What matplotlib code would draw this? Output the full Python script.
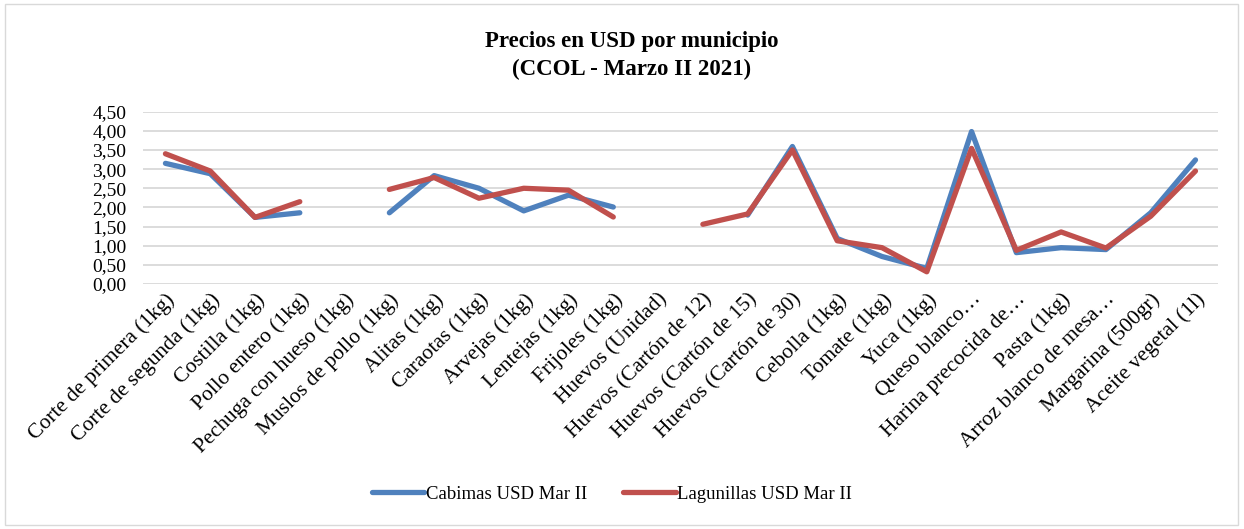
import matplotlib
matplotlib.use("Agg")
import matplotlib.pyplot as plt
import numpy as np
from matplotlib.ticker import FuncFormatter, MultipleLocator
from matplotlib.patches import Rectangle

categories = [
    "Corte de primera (1kg)", "Corte de segunda (1kg)", "Costilla (1kg)",
    "Pollo entero (1kg)", "Pechuga con hueso (1kg)", "Muslos de pollo (1kg)",
    "Alitas (1kg)", "Caraotas (1kg)", "Arvejas (1kg)", "Lentejas (1kg)",
    "Frijoles (1kg)", "Huevos (Unidad)", "Huevos (Cartón de 12)",
    "Huevos (Cartón de 15)", "Huevos (Cartón de 30)", "Cebolla (1kg)",
    "Tomate (1kg)", "Yuca (1kg)", "Queso blanco…", "Harina precocida de…",
    "Pasta (1kg)", "Arroz blanco de mesa…", "Margarina (500gr)", "Aceite vegetal (1l)",
]
nan = np.nan
cabimas = [3.15, 2.88, 1.74, 1.86, nan, 1.86, 2.83, 2.50, 1.91, 2.32, 2.01, nan,
           nan, 1.80, 3.59, 1.19, 0.72, 0.41, 3.98, 0.82, 0.95, 0.90, 1.86, 3.24]
lagunillas = [3.40, 2.95, 1.74, 2.15, nan, 2.47, 2.78, 2.24, 2.50, 2.45, 1.75, nan,
              1.56, 1.83, 3.50, 1.13, 0.95, 0.32, 3.54, 0.88, 1.36, 0.94, 1.77, 2.95]
series_names = ["Cabimas USD Mar II", "Lagunillas USD Mar II"]

plt.rcParams['font.family'] = ['Liberation Serif', 'DejaVu Serif']

fig = plt.figure(figsize=(12.44, 5.29), dpi=100)
fig.patches.append(Rectangle((0.004, 0.008), 0.991, 0.984, transform=fig.transFigure,
                             fill=False, edgecolor='#D9D9D9', linewidth=1))
ax = fig.add_axes([0.115, 0.463, 0.864, 0.326])

x = np.arange(len(categories))
ax.plot(x, cabimas, color='#4F81BD', lw=3.8, solid_capstyle='round',
        solid_joinstyle='round', label=series_names[0], zorder=3)
ax.plot(x, lagunillas, color='#C0504D', lw=3.8, solid_capstyle='round',
        solid_joinstyle='round', label=series_names[1], zorder=4)

ax.set_xlim(-0.5, len(categories) - 0.5)
ax.set_ylim(0, 4.5)
ax.yaxis.set_major_locator(MultipleLocator(0.5))
ax.yaxis.set_major_formatter(FuncFormatter(lambda v, p: f"{v:.2f}".replace('.', ',')))
ax.grid(axis='y', color='#D9D9D9', lw=1.3)
ax.set_axisbelow(True)
for s in ax.spines.values():
    s.set_visible(False)
ax.tick_params(axis='both', length=0, colors='#000000')
ax.tick_params(axis='y', pad=12, labelsize=14)
ax.tick_params(axis='x', pad=4)
ax.set_xticks(x)
ax.set_xticklabels(categories, rotation=45, ha='right', va='top',
                   rotation_mode='anchor', fontsize=15.5)

fig.text(0.508, 0.922, "Precios en USD por municipio", ha='center', va='center',
         fontsize=16.5, fontweight='bold')
fig.text(0.508, 0.869, "(CCOL - Marzo II 2021)", ha='center', va='center',
         fontsize=16.5, fontweight='bold')

fig.legend(loc='center', bbox_to_anchor=(0.492, 0.066), ncol=2, frameon=False,
           fontsize=13.5, handlelength=2.8, columnspacing=1.9, handletextpad=0.1)

fig.savefig("out.png", dpi=100)
